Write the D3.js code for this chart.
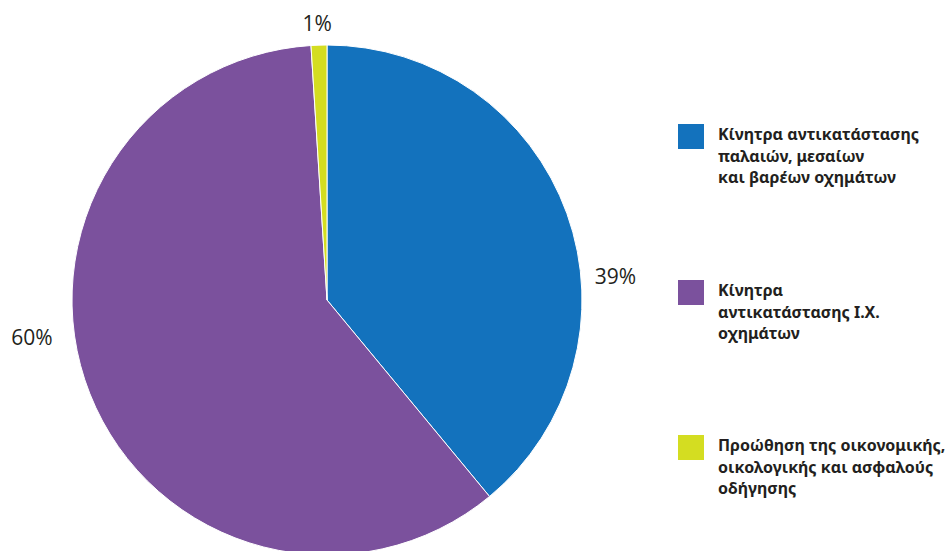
<!DOCTYPE html>
<html>
<head>
<meta charset="utf-8">
<script src="https://cdn.jsdelivr.net/npm/d3@7"></script>
<style>
  html, body { margin: 0; padding: 0; background: #ffffff; }
  svg { display: block; }
</style>
</head>
<body>
<svg id="chart" width="949" height="551"></svg>
<script>
// Funding shares by programme
const categories = [
  "Κίνητρα αντικατάστασης παλαιών, μεσαίων και βαρέων οχημάτων",
  "Κίνητρα αντικατάστασης Ι.Χ. οχημάτων",
  "Προώθηση της οικονομικής, οικολογικής και ασφαλούς οδήγησης"
];
const values = [39, 60, 1];
const valueLabels = ["39%", "60%", "1%"];
const legendLines = [
  ["Κίνητρα αντικατάστασης", "παλαιών, μεσαίων", "και βαρέων οχημάτων"],
  ["Κίνητρα", "αντικατάστασης Ι.Χ.", "οχημάτων"],
  ["Προώθηση της οικονομικής,", "οικολογικής και ασφαλούς", "οδήγησης"]
];
const colors = ["#1372bd", "#7b519d", "#d4dd21"];

// Layout
const cx = 327, cy = 300, radius = 255;
// label baseline placement: angle (degrees, clockwise from 12 o'clock) and distance from centre
const labelPlacement = [
  { angle: 86.8, dist: 289 },
  { angle: 261.3, dist: 298.4 },
  { angle: 357.9, dist: 269.2 }
];

const svg = d3.select("#chart");

const pie = d3.pie().sort(null).value(d => d);
const arcs = pie(values);
const arc = d3.arc().innerRadius(0).outerRadius(radius);

const g = svg.append("g").attr("transform", `translate(${cx},${cy})`);

g.selectAll("path.slice")
  .data(arcs)
  .join("path")
  .attr("class", "slice")
  .attr("d", arc)
  .attr("fill", (d, i) => colors[i])
  .attr("stroke", "#ffffff")
  .attr("stroke-width", 1);

g.selectAll("text.pct")
  .data(arcs)
  .join("text")
  .attr("class", "pct")
  .attr("x", (d, i) => labelPlacement[i].dist * Math.sin(labelPlacement[i].angle * Math.PI / 180))
  .attr("y", (d, i) => -labelPlacement[i].dist * Math.cos(labelPlacement[i].angle * Math.PI / 180))
  .attr("text-anchor", "middle")
  .attr("font-family", "'Open Sans', sans-serif")
  .attr("font-weight", 400)
  .attr("font-size", 21)
  .attr("fill", "#231f20")
  .text((d, i) => valueLabels[i]);

// Legend
const legendX = 678, legendTop = [124, 280, 435];
const legend = svg.append("g");
categories.forEach((c, i) => {
  const item = legend.append("g").attr("transform", `translate(${legendX},${legendTop[i]})`);
  item.append("rect")
    .attr("width", 26).attr("height", 25)
    .attr("fill", colors[i]);
  const t = item.append("text")
    .attr("x", 40)
    .attr("y", 16)
    .attr("font-family", "'Noto Sans', sans-serif")
    .attr("font-weight", 700)
    .attr("font-size", 16)
    .attr("fill", "#231f20");
  legendLines[i].forEach((line, j) => {
    t.append("tspan").attr("x", 40).attr("dy", j === 0 ? 0 : 21.5).text(line);
  });
});
</script>
</body>
</html>
